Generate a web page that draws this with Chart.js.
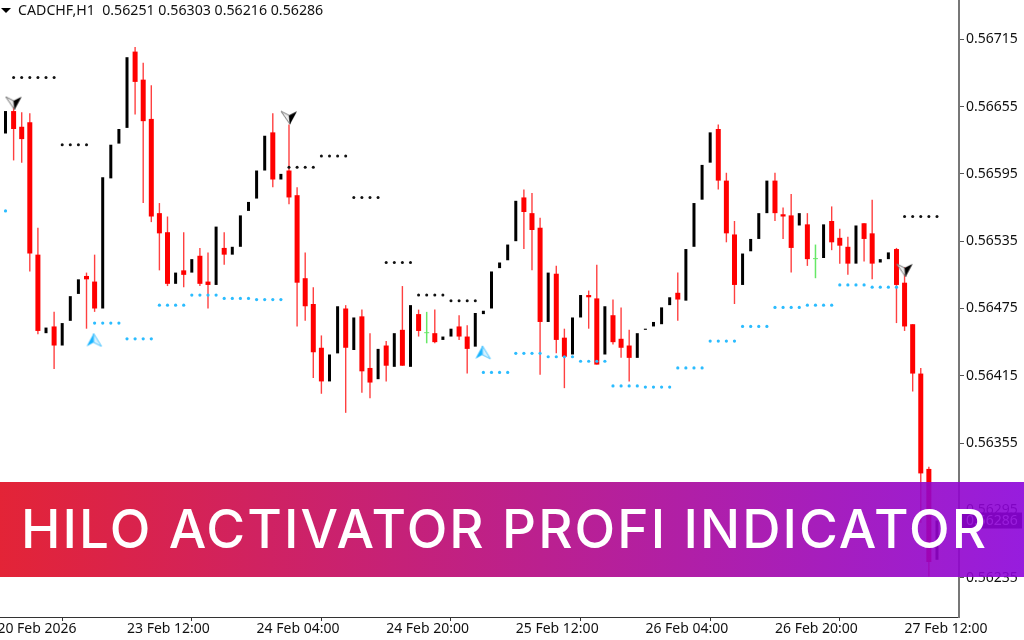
<!DOCTYPE html>
<html>
<head>
<meta charset="utf-8">
<title>HILO Activator Profi Indicator</title>
<script src="https://cdn.jsdelivr.net/npm/chart.js@4/dist/chart.umd.min.js"></script>
<style>
  html, body { margin: 0; padding: 0; background: #fff; overflow: hidden; }
  #wrap { position: relative; width: 1024px; height: 640px; overflow: hidden; }
  #chart { display: block; }
  #symbol { position: absolute; left: 18px; top: 0; font: 14.2px "Noto Sans", sans-serif; color: #111; white-space: pre; }
  #marker { position: absolute; left: 1px; top: 8px; width: 0; height: 0;
    border-left: 5px solid transparent; border-right: 5px solid transparent; border-top: 5px solid #000; }
  #banner { position: absolute; left: 0; top: 482px; width: 1024px; height: 95px;
    background: linear-gradient(90deg, rgba(224,12,33,.9), rgba(140,4,218,.9)); }
  #banner div { position: absolute; left: 21px; top: 9px; font: 500 53px/76px Inter, sans-serif; color: #fff; white-space: pre; letter-spacing: 2.1px; }
</style>
</head>
<body>
<div id="wrap">
  <canvas id="chart" width="1024" height="640"></canvas>
  <div id="marker"></div>
  <div id="symbol">CADCHF,H1  0.56251 0.56303 0.56216 0.56286</div>
  <div id="banner"><div>HILO ACTIVATOR PROFI INDICATOR</div></div>
</div>
<script>
// hourly bars
const openPrices = [
  0.56631,0.56651,0.56637,0.56641,0.56523,0.56453,0.56459,0.56442,0.56464,0.56488,
  0.56504,0.56499,0.56475,0.56591,0.56622,0.56636,0.56704,0.56679,0.56644,0.56560,
  0.56543,0.56497,0.56509,0.56507,0.56522,0.56499,0.56496,0.56529,0.56523,0.56530,
  0.56562,0.56573,0.56598,0.56632,0.56590,0.56598,0.56576,0.56502,0.56479,0.56440,
  0.56410,0.56435,0.56475,0.56438,0.56468,0.56422,0.56412,0.56442,0.56423,0.56456,
  0.56423,0.56470,0.56453,0.56453,0.56447,0.56450,0.56459,0.56450,0.56441,0.56470,
  0.56475,0.56511,0.56518,0.56535,0.56574,0.56560,0.56547,0.56463,0.56506,0.56449,
  0.56434,0.56467,0.56487,0.56484,0.56434,0.56469,0.56448,0.56442,0.56431,0.56456,
  0.56459,0.56461,0.56478,0.56489,0.56482,0.56530,0.56572,0.56605,0.56635,0.56589,
  0.56541,0.56496,0.56526,0.56537,0.56560,0.56589,0.56559,0.56558,0.56549,0.56550,
  0.56519,0.56520,0.56553,0.56538,0.56530,0.56515,0.56551,0.56542,0.56516,0.56519,
  0.56528,0.56498,0.56461,0.56417,0.56332,0.56251
];
const highPrices = [
  0.56651,0.56655,0.56650,0.56649,0.56547,0.56458,0.56472,0.56462,0.56486,0.56501,
  0.56507,0.56523,0.56592,0.56621,0.56635,0.56699,0.56708,0.56694,0.56674,0.56569,
  0.56557,0.56507,0.56543,0.56519,0.56529,0.56525,0.56548,0.56543,0.56530,0.56558,
  0.56570,0.56598,0.56629,0.56649,0.56595,0.56639,0.56583,0.56525,0.56494,0.56451,
  0.56434,0.56477,0.56478,0.56467,0.56474,0.56453,0.56439,0.56446,0.56453,0.56495,
  0.56478,0.56474,0.56472,0.56474,0.56450,0.56457,0.56469,0.56460,0.56471,0.56473,
  0.56508,0.56516,0.56532,0.56571,0.56581,0.56578,0.56556,0.56507,0.56513,0.56457,
  0.56467,0.56487,0.56491,0.56514,0.56477,0.56483,0.56476,0.56456,0.56453,0.56457,
  0.56463,0.56476,0.56485,0.56507,0.56528,0.56569,0.56603,0.56632,0.56639,0.56596,
  0.56553,0.56524,0.56537,0.56560,0.56589,0.56596,0.56565,0.56577,0.56560,0.56560,
  0.56532,0.56550,0.56566,0.56546,0.56539,0.56549,0.56551,0.56572,0.56519,0.56525,
  0.56529,0.56512,0.56461,0.56422,0.56334,0.56286
];
const lowPrices = [
  0.56631,0.56607,0.56605,0.56508,0.56452,0.56453,0.56421,0.56442,0.56464,0.56488,
  0.56457,0.56472,0.56475,0.56591,0.56622,0.56636,0.56648,0.56569,0.56552,0.56509,
  0.56495,0.56497,0.56494,0.56507,0.56495,0.56475,0.56496,0.56514,0.56523,0.56530,
  0.56562,0.56573,0.56598,0.56583,0.56590,0.56568,0.56459,0.56464,0.56413,0.56399,
  0.56410,0.56435,0.56382,0.56438,0.56400,0.56395,0.56412,0.56410,0.56423,0.56424,
  0.56423,0.56450,0.56444,0.56444,0.56447,0.56450,0.56447,0.56417,0.56441,0.56470,
  0.56475,0.56511,0.56518,0.56535,0.56528,0.56509,0.56416,0.56463,0.56435,0.56404,
  0.56434,0.56467,0.56457,0.56425,0.56434,0.56443,0.56431,0.56410,0.56431,0.56456,
  0.56459,0.56461,0.56478,0.56464,0.56482,0.56530,0.56572,0.56605,0.56581,0.56534,
  0.56479,0.56496,0.56526,0.56537,0.56560,0.56553,0.56537,0.56507,0.56549,0.56513,
  0.56502,0.56520,0.56527,0.56515,0.56505,0.56515,0.56517,0.56501,0.56516,0.56519,
  0.56462,0.56455,0.56401,0.56284,0.56236,0.56251
];
const closePrices = [
  0.56651,0.56635,0.56626,0.56524,0.56455,0.56458,0.56442,0.56462,0.56486,0.56501,
  0.56501,0.56475,0.56592,0.56621,0.56635,0.56699,0.56677,0.56642,0.56557,0.56542,
  0.56497,0.56507,0.56505,0.56519,0.56497,0.56496,0.56548,0.56523,0.56530,0.56558,
  0.56570,0.56598,0.56629,0.56590,0.56595,0.56574,0.56498,0.56477,0.56436,0.56410,
  0.56434,0.56477,0.56440,0.56467,0.56419,0.56409,0.56439,0.56424,0.56453,0.56424,
  0.56478,0.56455,0.56453,0.56445,0.56450,0.56457,0.56450,0.56439,0.56471,0.56473,
  0.56508,0.56516,0.56532,0.56571,0.56561,0.56545,0.56463,0.56507,0.56447,0.56432,
  0.56467,0.56487,0.56485,0.56425,0.56477,0.56445,0.56440,0.56431,0.56453,0.56457,
  0.56463,0.56476,0.56485,0.56483,0.56528,0.56569,0.56603,0.56632,0.56589,0.56542,
  0.56496,0.56524,0.56537,0.56560,0.56589,0.56560,0.56557,0.56529,0.56560,0.56519,
  0.56519,0.56550,0.56534,0.56531,0.56515,0.56549,0.56537,0.56515,0.56519,0.56525,
  0.56496,0.56459,0.56417,0.56328,0.56249,0.56286
];

// hilo activator dots
const hiloHighBars = [
  1,2,3,4,5,6, 7,8,9,10, 35,36,37,38, 39,40,41,42, 43,44,45,46, 47,48,49,50,
  51,52,53,54, 55,56,57,58, 111,112,113,114,115
];
const hiloHighValues = [
  0.56681,0.56681,0.56681,0.56681,0.56681,0.56681, 0.56621,0.56621,0.56621,0.56621,
  0.56601,0.56601,0.56601,0.56601, 0.56611,0.56611,0.56611,0.56611,
  0.56574,0.56574,0.56574,0.56574, 0.56516,0.56516,0.56516,0.56516,
  0.56487,0.56487,0.56487,0.56487, 0.56482,0.56482,0.56482,0.56482,
  0.56557,0.56557,0.56557,0.56557,0.56557
];
const hiloLowBars = [
  0, 11,12,13,14, 15,16,17,18, 19,20,21,22, 23,24,25,26, 27,28,29,30, 31,32,33,34,
  59,60,61,62, 63,64,65,66, 67,68,69,70, 71,72,73,74, 75,76,77,78, 79,80,81,82,
  83,84,85,86, 87,88,89,90, 91,92,93,94, 95,96,97,98, 99,100,101,102, 103,104,105,106,
  107,108,109,110
];
const hiloLowValues = [
  0.56562, 0.56462,0.56462,0.56462,0.56462, 0.56448,0.56448,0.56448,0.56448,
  0.56478,0.56478,0.56478,0.56478, 0.56487,0.56487,0.56487,0.56487,
  0.56484,0.56484,0.56484,0.56484, 0.56483,0.56483,0.56483,0.56483,
  0.56418,0.56418,0.56418,0.56418, 0.56435,0.56435,0.56435,0.56435,
  0.56432,0.56432,0.56432,0.56432, 0.56428,0.56428,0.56428,0.56428,
  0.56406,0.56406,0.56406,0.56406, 0.56405,0.56405,0.56405,0.56405,
  0.56422,0.56422,0.56422,0.56422, 0.56446,0.56446,0.56446,0.56446,
  0.56459,0.56459,0.56459,0.56459, 0.56476,0.56476,0.56476,0.56476,
  0.56478,0.56478,0.56478,0.56478, 0.56496,0.56496,0.56496,0.56496,
  0.56494,0.56494,0.56494,0.56494
];

// arrows
const sellArrowBars = [1, 35, 111];
const sellArrowValues = [0.56658, 0.56645, 0.56509];
const buyArrowBars = [11, 59];
const buyArrowValues = [0.56447, 0.56436];

// axes
const timeTickBars = [-1, 15, 31, 47, 63, 79, 95, 111];
const timeTickLabels = ['20 Feb 2026', '23 Feb 12:00', '24 Feb 04:00', '24 Feb 20:00', '25 Feb 12:00', '26 Feb 04:00', '26 Feb 20:00', '27 Feb 12:00'];
const priceTicks = [0.56715, 0.56655, 0.56595, 0.56535, 0.56475, 0.56415, 0.56355, 0.56295, 0.56235];

const axisFont = { family: '"Noto Sans", sans-serif', size: 14 };

function bodiesWhere(test) {
    const out = [];
    openPrices.forEach((open, i) => {
        if (test(open, closePrices[i])) out.push({ x: i, y: [Math.min(open, closePrices[i]), Math.max(open, closePrices[i])] });
    });
    return out;
}

function wicksWhere(test) {
    const out = [];
    openPrices.forEach((open, i) => {
        if (test(open, closePrices[i])) out.push({ x: i, y: [lowPrices[i], highPrices[i]] });
    });
    return out;
}

function pointsFrom(bars, values) {
    return bars.map((bar, i) => ({ x: bar, y: values[i] }));
}

// arrow sprites, left half and right half are filled differently
function makeArrow(pointsDown) {
    const c = document.createElement('canvas');
    c.width = 18; c.height = 15;
    const g = c.getContext('2d');
    if (pointsDown) {
        g.fillStyle = '#eee'; g.strokeStyle = '#777'; g.lineWidth = 1;
        g.beginPath(); g.moveTo(1, 1); g.lineTo(9, 5); g.lineTo(10, 14); g.closePath(); g.fill(); g.stroke();
        g.fillStyle = '#000';
        g.beginPath(); g.moveTo(9, 5); g.lineTo(17, 1); g.lineTo(10, 14); g.closePath(); g.fill();
    } else {
        g.fillStyle = '#18b4ff';
        g.beginPath(); g.moveTo(8, 1); g.lineTo(1, 14); g.lineTo(8, 10); g.closePath(); g.fill();
        g.fillStyle = '#d8f2ff'; g.strokeStyle = '#4cc4ff'; g.lineWidth = 1;
        g.beginPath(); g.moveTo(8, 1); g.lineTo(8, 10); g.lineTo(16, 14); g.closePath(); g.fill(); g.stroke();
    }
    return c;
}

// current price box on the price axis
const lastPriceBox = {
    id: 'lastPriceBox',
    afterDraw(chart) {
        const ctx = chart.ctx;
        const close = closePrices[closePrices.length - 1];
        const y = chart.scales.y.getPixelForValue(close);
        ctx.save();
        ctx.fillStyle = '#000';
        ctx.fillRect(961, y - 8, 61, 16);
        ctx.fillStyle = '#fff';
        ctx.font = '14px "Noto Sans", sans-serif';
        ctx.textBaseline = 'middle';
        ctx.fillText(close.toFixed(5), 966, y);
        ctx.restore();
    }
};

new Chart(document.getElementById('chart'), {
    type: 'bar',
    data: {
        datasets: [
            { type: 'scatter', data: pointsFrom(sellArrowBars, sellArrowValues), pointStyle: makeArrow(true), pointRadius: 8 },
            { type: 'scatter', data: pointsFrom(buyArrowBars, buyArrowValues), pointStyle: makeArrow(false), pointRadius: 8 },
            { type: 'scatter', data: pointsFrom(hiloHighBars, hiloHighValues), pointRadius: 1.5, borderWidth: 0, backgroundColor: '#111' },
            { type: 'scatter', data: pointsFrom(hiloLowBars, hiloLowValues), pointRadius: 1.6, borderWidth: 0, backgroundColor: '#2bbcff' },
            { data: bodiesWhere((o, c) => c > o), backgroundColor: '#000', maxBarThickness: 3, minBarLength: 1, grouped: false },
            { data: bodiesWhere((o, c) => c < o), backgroundColor: '#ff0000', maxBarThickness: 5, minBarLength: 2, grouped: false },
            { data: bodiesWhere((o, c) => c === o), backgroundColor: '#66e866', maxBarThickness: 5, minBarLength: 1, grouped: false },
            { data: wicksWhere((o, c) => c === o), backgroundColor: '#66e866', maxBarThickness: 1.5, grouped: false },
            { data: wicksWhere((o, c) => c < o), backgroundColor: '#ff4040', maxBarThickness: 1.4, grouped: false }
        ]
    },
    options: {
        responsive: false,
        animation: false,
        layout: { padding: 0, autoPadding: false },
        plugins: { legend: { display: false }, tooltip: { enabled: false } },
        scales: {
            x: {
                type: 'linear',
                offset: false,
                min: -0.68,
                max: 117.72,
                afterFit: s => { s.height = 23; s.paddingLeft = 0; s.paddingRight = 0; },
                afterBuildTicks: s => { s.ticks = timeTickBars.map(v => ({ value: v })); },
                border: { color: '#333', width: 1 },
                grid: { drawOnChartArea: false, tickLength: 4, color: '#333' },
                ticks: {
                    autoSkip: false,
                    maxRotation: 0,
                    align: 'start',
                    padding: 0,
                    color: '#111',
                    font: axisFont,
                    callback: value => timeTickLabels[timeTickBars.indexOf(value)]
                }
            },
            y: {
                position: 'right',
                min: 0.562,
                max: 0.5675,
                afterFit: s => { s.width = 65; s.paddingTop = 0; s.paddingBottom = 0; },
                afterBuildTicks: s => { s.ticks = priceTicks.map(v => ({ value: v })); },
                border: { color: '#777', width: 2 },
                grid: { drawOnChartArea: false, tickLength: 5, color: '#555' },
                ticks: {
                    padding: 2,
                    color: '#111',
                    font: axisFont,
                    callback: value => value.toFixed(5)
                }
            }
        }
    },
    plugins: [lastPriceBox]
});
</script>
</body>
</html>
